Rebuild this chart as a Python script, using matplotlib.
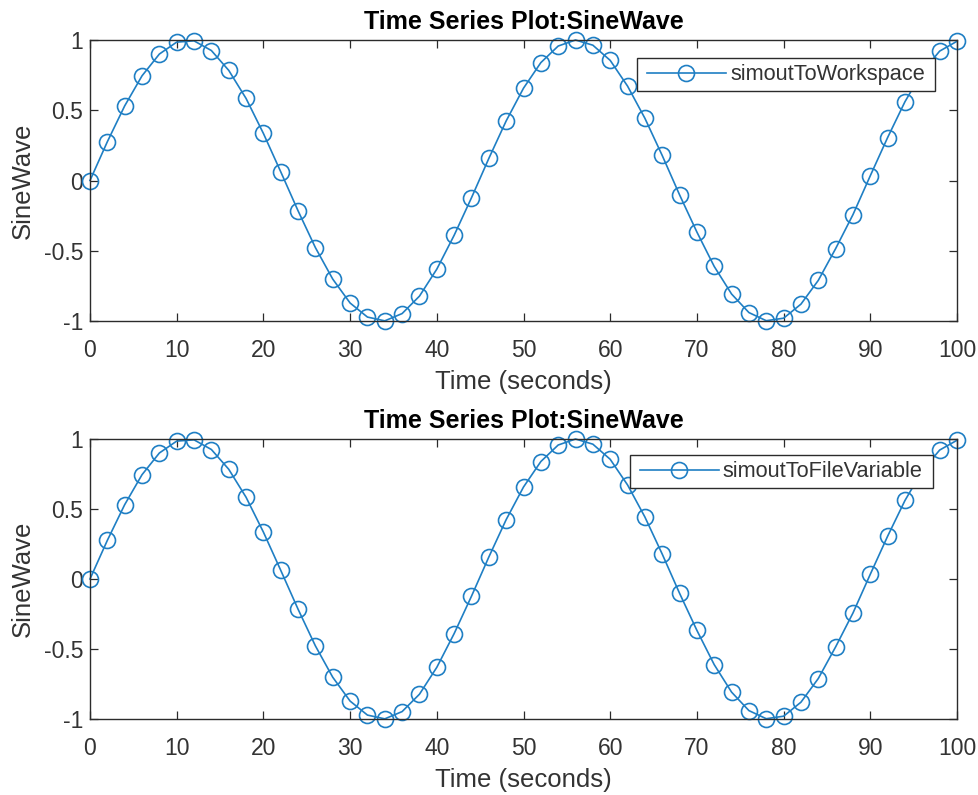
import matplotlib
matplotlib.use("Agg")
import matplotlib.pyplot as plt

time_s = [0, 2, 4, 6, 8, 10, 12, 14, 16, 18, 20, 22, 24, 26, 28, 30, 32, 34, 36, 38,
          40, 42, 44, 46, 48, 50, 52, 54, 56, 58, 60, 62, 64, 66, 68, 70, 72, 74, 76, 78,
          80, 82, 84, 86, 88, 90, 92, 94, 96, 98, 100]
sine_wave = [0.0, 0.276, 0.531, 0.745, 0.900, 0.985, 0.994, 0.925, 0.784, 0.584,
             0.335, 0.062, -0.216, -0.478, -0.702, -0.872, -0.972, -0.999, -0.947, -0.823,
             -0.631, -0.390, -0.123, 0.157, 0.424, 0.657, 0.839, 0.957, 1.000, 0.963,
             0.855, 0.672, 0.443, 0.178, -0.102, -0.367, -0.612, -0.808, -0.940, -0.998,
             -0.980, -0.880, -0.711, -0.485, -0.243, 0.034, 0.306, 0.561, 0.773, 0.921, 0.991]
series_names = ["simoutToWorkspace", "simoutToFileVariable"]
title_text = "Time Series Plot:SineWave"
xlabel_text = "Time (seconds)"
ylabel_text = "SineWave"
xticks = [0, 10, 20, 30, 40, 50, 60, 70, 80, 90, 100]
yticks = [-1, -0.5, 0, 0.5, 1]
ytick_labels = ["-1", "-0.5", "0", "0.5", "1"]

plt.rcParams['font.family'] = ['Liberation Sans', 'DejaVu Sans']
W, H = 979, 795
fig = plt.figure(figsize=(W / 100, H / 100), dpi=100)

dark = "#2b2b2b"
text_c = "#333333"
blue = "#1f7fc4"
axes_px = [(90, 40, 957, 321), (90, 439, 957, 719)]
legend_anchor = [(0.9684, 0.931), (0.9661, 0.938)]

for (l, t, r, b), name, anc in zip(axes_px, series_names, legend_anchor):
    ax = fig.add_axes([l / W, 1 - b / H, (r - l) / W, (b - t) / H])
    ax.plot(time_s, sine_wave, color=blue, lw=1.2, marker='o', ms=11.5,
            mfc='none', mec=blue, mew=1.2, label=name, clip_on=False)
    ax.set_xlim(0, 100)
    ax.set_ylim(-1, 1)
    ax.set_xticks(xticks)
    ax.set_yticks(yticks)
    ax.set_yticklabels(ytick_labels)
    ax.tick_params(direction='in', top=True, right=True, length=6, width=0.9,
                   color=dark, labelcolor=text_c, labelsize=16.5)
    ax.tick_params(axis='x', pad=13)
    ax.tick_params(axis='y', pad=5)
    for sp in ax.spines.values():
        sp.set_color(dark)
        sp.set_linewidth(1.0)
    ax.set_title(title_text, fontsize=18, fontweight='bold', color='black', pad=8)
    ax.set_xlabel(xlabel_text, fontsize=18.5, color=text_c, labelpad=5.5)
    ax.set_ylabel(ylabel_text, fontsize=18.5, color=text_c, labelpad=6)
    leg = ax.legend(loc='upper right', bbox_to_anchor=anc, borderaxespad=0,
                    fontsize=15.7, frameon=True, fancybox=False, edgecolor=dark,
                    framealpha=1, handlelength=3.6, borderpad=0.22, handletextpad=0.2)
    frame = leg.get_frame()
    frame.set_linewidth(1.0)
    frame.set_boxstyle("square", pad=0.25)
    frame.set_mutation_aspect(0.25)
    for txt in leg.get_texts():
        txt.set_color(text_c)

fig.savefig("out.png", dpi=100)
